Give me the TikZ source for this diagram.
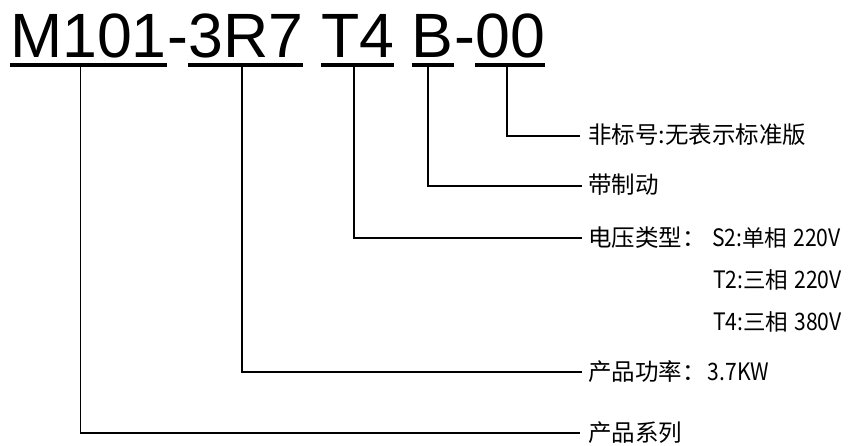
\documentclass[tikz,border=0pt]{standalone}
\usepackage{fontspec}
\setmainfont{Liberation Sans}
\newfontfamily\cjk{Noto Sans CJK SC}
\newfontfamily\latn[FakeStretch=0.88]{Noto Sans CJK SC}
\begin{document}
\begin{tikzpicture}[x=1pt,y=-1pt,
  title/.style={font=\fontsize{62.6}{70}\selectfont, inner sep=0pt, anchor=base west},
  uline/.style={line width=3.6pt},
  conn/.style={line width=1.6pt},
  lbl/.style={font=\cjk\fontsize{23.5}{26}\selectfont, inner xsep=0pt, inner ysep=0pt, anchor=west},
  sub/.style={font=\cjk\fontsize{22.5}{26}\selectfont, inner xsep=0pt, inner ysep=0pt, anchor=west},
]
\useasboundingbox (0,0) rectangle (860,445);
% title
\node[title] (m)  at (10,57) {M101};
\node[title] (h1) at (m.base east) {-};
\node[title] (r)  at (h1.base east) {3R7};
\node[title] (t)  at ([xshift=17.4pt]r.base east) {T4};
\node[title] (b)  at ([xshift=17.4pt]t.base east) {B};
\node[title] (h2) at (b.base east) {-};
\node[title] (z)  at (h2.base east) {00};
% underlines
\foreach \n in {m,r,t,b,z}{
  \draw[uline] (\n.west |- 0,65) -- (\n.east |- 0,65);
}
% attach points
\coordinate (mv) at (80.5,66);
\coordinate (rv) at (242,66);
\coordinate (tv) at (354,66);
\coordinate (bv) at (428,66);
\coordinate (zv) at (507,66);
% labels
\node[lbl] (l0) at (588,135) {非标号:无表示标准版};
\node[lbl] (l1) at (588,185) {带制动};
\node[lbl] (l2) at (588,238) {电压类型：};
\node[sub] (s1) at (712,238) {{\latn\fontsize{24}{26}\selectfont S2:}单相\hspace{6pt}{\latn\fontsize{24}{26}\selectfont 220V}};
\node[sub] (s2) at (713,280) {{\latn\fontsize{24}{26}\selectfont T2:}三相\hspace{6pt}{\latn\fontsize{24}{26}\selectfont 220V}};
\node[sub] (s3) at (713,322) {{\latn\fontsize{24}{26}\selectfont T4:}三相\hspace{6pt}{\latn\fontsize{24}{26}\selectfont 380V}};
\node[lbl] (l3) at (588,372) {产品功率：\hspace{2pt}{\latn\fontsize{24}{26}\selectfont 3.7KW}};
\node[lbl] (l4) at (588,433) {产品系列};
% connectors
\coordinate (e0) at (580,136);
\coordinate (e1) at (582,186);
\coordinate (e2) at (582,238);
\coordinate (e3) at (582,372);
\coordinate (e4) at (580,433);
\draw[conn] (zv) |- (e0);
\draw[conn] (bv) |- (e1);
\draw[conn] (tv) |- (e2);
\draw[conn] (rv) |- (e3);
\draw[conn] (mv) |- (e4);
\end{tikzpicture}
\end{document}
